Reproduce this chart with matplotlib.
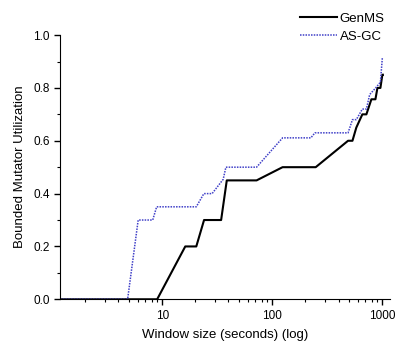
import matplotlib
matplotlib.use("Agg")
import matplotlib.pyplot as plt
from matplotlib.ticker import LogLocator, MultipleLocator, NullFormatter, FixedLocator, FixedFormatter

plt.rcParams['font.family'] = ['Liberation Sans', 'DejaVu Sans']

# === data ===
genms_x = [1.18, 9.0, 16.2, 20.4, 24.0, 34.3, 38.6, 72, 124, 248, 488, 535, 580, 658, 716, 795, 865, 902, 960, 1000, 1010]
genms_y = [0.0, 0.0, 0.2, 0.2, 0.3, 0.3, 0.45, 0.45, 0.5, 0.5, 0.6, 0.6, 0.65, 0.7, 0.7, 0.757, 0.757, 0.8, 0.8, 0.85, 0.85]

asgc_x = [1.18, 4.85, 6.05, 8.2, 8.9, 20.4, 23.9, 28.4, 35.8, 37.9, 72, 124, 224, 244, 488, 535, 580, 658, 716, 767, 870, 960, 1000]
asgc_y = [0.0, 0.0, 0.3, 0.3, 0.35, 0.35, 0.4, 0.4, 0.454, 0.5, 0.5, 0.611, 0.611, 0.63, 0.63, 0.68, 0.68, 0.72, 0.72, 0.775, 0.8, 0.822, 0.915]

xticks = [10, 100, 1000]
xtick_labels = ["10", "100", "1000"]

# === plot ===
fig = plt.figure(figsize=(3.95, 3.44), dpi=100)
ax = fig.add_axes([0.152, 0.130, 0.835, 0.768])

ax.plot(genms_x, genms_y, color="black", lw=1.5, label="GenMS")
ax.plot(asgc_x, asgc_y, color="#4040c8", lw=1.1, ls=(0, (1, 0.8)), label="AS-GC")

ax.set_xscale("log")
ax.set_xlim(1.18, 1170)
ax.set_ylim(0, 1.0)

ax.xaxis.set_major_locator(FixedLocator(xticks))
ax.xaxis.set_major_formatter(FixedFormatter(xtick_labels))
ax.xaxis.set_minor_locator(LogLocator(base=10, subs=range(2, 10)))
ax.xaxis.set_minor_formatter(NullFormatter())
ax.yaxis.set_major_locator(MultipleLocator(0.2))
ax.yaxis.set_minor_locator(MultipleLocator(0.1))
ax.yaxis.set_major_formatter(matplotlib.ticker.FormatStrFormatter("%.1f"))

ax.spines["top"].set_visible(False)
ax.spines["right"].set_visible(False)
ax.tick_params(which="major", direction="out", length=4, width=1, labelsize=8.5)
ax.tick_params(which="minor", direction="out", length=2.5, width=0.8)

ax.set_xlabel("Window size (seconds) (log)", fontsize=9.5, labelpad=5)
ax.set_ylabel("Bounded Mutator Utilization", fontsize=9.5, labelpad=5)

ax.legend(loc="upper right", bbox_to_anchor=(1.0, 1.105), frameon=False, fontsize=9.5,
          handlelength=2.8, handletextpad=0.2, labelspacing=0.45, borderaxespad=0)

fig.savefig("out.png", dpi=100)
